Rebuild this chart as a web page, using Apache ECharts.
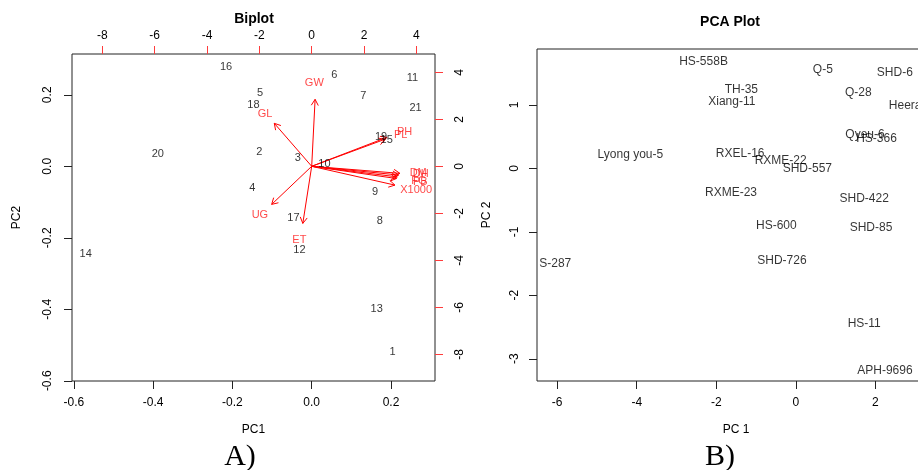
<!DOCTYPE html>
<html lang="en">
<head>
    <meta charset="utf-8">
    <title>Biplot / PCA Plot</title>
    <script src="https://cdn.jsdelivr.net/npm/echarts@6/dist/echarts.min.js"></script>
    <style type="text/css">
        html, body {
            width: 100%;
            height: 100%;
            margin: 0px;
            padding: 0px;
            background: #fff;
        }

        #main {
            width: 918px;
            height: 470px;
        }
    </style>
</head>
<body>
<div id="main"></div>
<script>
    // A) biplot - scores of the 21 genotypes (PC1 / PC2)
    var biNames = ['1', '2', '3', '4', '5', '6', '7', '8', '9', '10', '11',
        '12', '13', '14', '15', '16', '17', '18', '19', '20', '21'];
    var biPC1 = [0.204, -0.132, -0.035, -0.150, -0.130, 0.057, 0.130, 0.172, 0.160, 0.032, 0.254,
        -0.031, 0.164, -0.570, 0.189, -0.216, -0.046, -0.147, 0.175, -0.388, 0.262];
    var biPC2 = [-0.519, 0.041, 0.024, -0.061, 0.206, 0.255, 0.197, -0.152, -0.072, 0.006, 0.246,
        -0.234, -0.399, -0.245, 0.074, 0.277, -0.144, 0.172, 0.083, 0.035, 0.164];

    // A) biplot - trait vectors (top / right scale)
    var traits = ['GW', 'GL', 'PH', 'PL', 'DM', 'DH', 'FG', 'PB', 'X1000', 'UG', 'ET'];
    var arrowX = [0.13, -1.43, 2.87, 2.80, 3.37, 3.32, 3.27, 3.24, 3.18, -1.53, -0.34];
    var arrowY = [2.85, 1.83, 1.23, 1.15, -0.30, -0.37, -0.45, -0.52, -0.80, -1.62, -2.43];
    var traitLabX = [0.10, -1.78, 3.55, 3.40, 4.07, 4.17, 4.10, 4.15, 3.99, -1.98, -0.47];
    var traitLabY = [3.53, 2.22, 1.45, 1.32, -0.30, -0.32, -0.62, -0.66, -1.02, -2.09, -3.14];

    // B) PCA plot - genotype names
    var pcaNames = ['HS-558B', 'Q-5', 'SHD-6', 'TH-35', 'Q-28', 'Xiang-11', 'Heera', 'Qyeu-6', 'HS-366',
        'Lyong you-5', 'RXEL-16', 'RXME-22', 'SHD-557', 'RXME-23', 'SHD-422', 'HS-600', 'SHD-85',
        'S-287', 'SHD-726', 'HS-11', 'APH-9696'];
    var pcaPC1 = [-2.32, 0.68, 2.49, -1.37, 1.57, -1.61, 2.75, 1.74, 2.03,
        -4.16, -1.40, -0.38, 0.29, -1.63, 1.72, -0.49, 1.89,
        -6.05, -0.35, 1.72, 2.24];
    var pcaPC2 = [1.674, 1.553, 1.50, 1.233, 1.19, 1.049, 0.98, 0.535, 0.466,
        0.209, 0.225, 0.12, 0.0, -0.384, -0.472, -0.909, -0.940,
        -1.507, -1.455, -2.452, -3.187];

    // tick values
    var biTicksX = [-0.6, -0.4, -0.2, 0.0, 0.2];
    var biTicksY = [-0.6, -0.4, -0.2, 0.0, 0.2];
    var biTicksTop = [-8, -6, -4, -2, 0, 2, 4];
    var biTicksRight = [-8, -6, -4, -2, 0, 2, 4];
    var pcaTicksX = [-6, -4, -2, 0, 2];
    var pcaTicksY = [-3, -2, -1, 0, 1];

    var FONT = "'Liberation Sans', Arial, sans-serif";
    var INK = '#000';
    var RED = '#ff0000';

    function points(names, xs, ys) {
        return names.map(function (n, i) {
            return {name: n, value: [xs[i], ys[i]]};
        });
    }

    function axisBase(o) {
        var ax = {
            type: 'value',
            scale: true,
            splitLine: {show: false},
            axisLine: {show: false, onZero: false},
            axisTick: {show: true, length: 8, lineStyle: {color: o.tickColor || '#222'}, customValues: o.ticks},
            axisLabel: {
                color: INK, fontFamily: FONT, fontSize: 12, margin: o.margin,
                rotate: o.rotate || 0, customValues: o.ticks,
                formatter: o.fmt || function (v) { return String(v); }
            }
        };
        for (var k in o.extra) ax[k] = o.extra[k];
        return ax;
    }

    var fmt1 = function (v) { return v.toFixed(1); };

    var myChart = echarts.init(document.getElementById('main'), null, {renderer: 'canvas'});

    var option = {
        backgroundColor: '#fff',
        animation: false,
        grid: [
            {left: 72, top: 54, width: 363, height: 327, show: true, borderColor: '#222', borderWidth: 1,
                backgroundColor: 'transparent', outerBoundsMode: 'none'},
            {left: 537, top: 49, width: 398, height: 332, show: true, borderColor: '#222', borderWidth: 1,
                backgroundColor: 'transparent', outerBoundsMode: 'none'}
        ],
        xAxis: [
            axisBase({ticks: biTicksX, margin: 16, fmt: fmt1,
                extra: {gridIndex: 0, position: 'bottom', min: -0.6046, max: 0.311,
                    name: 'PC1', nameLocation: 'middle', nameGap: 43,
                    nameTextStyle: {color: INK, fontFamily: FONT, fontSize: 12}}}),
            axisBase({ticks: biTicksTop, margin: 12, tickColor: '#ff3b3b',
                extra: {gridIndex: 0, position: 'top', min: -9.16, max: 4.712}}),
            axisBase({ticks: pcaTicksX, margin: 16,
                extra: {gridIndex: 1, position: 'bottom', min: -6.508, max: 3.5,
                    name: 'PC 1', nameLocation: 'middle', nameGap: 43,
                    nameTextStyle: {color: INK, fontFamily: FONT, fontSize: 12}}})
        ],
        yAxis: [
            axisBase({ticks: biTicksY, margin: 18, rotate: 90, fmt: fmt1,
                extra: {gridIndex: 0, position: 'left', min: -0.6006, max: 0.3141,
                    name: 'PC2', nameLocation: 'middle', nameGap: 49,
                    nameTextStyle: {color: INK, fontFamily: FONT, fontSize: 12}}}),
            axisBase({ticks: biTicksRight, margin: 19, rotate: 90, tickColor: '#ff3b3b',
                extra: {gridIndex: 0, position: 'right', min: -9.136, max: 4.779}}),
            axisBase({ticks: pcaTicksY, margin: 16, rotate: 90,
                extra: {gridIndex: 1, position: 'left', min: -3.35, max: 1.879,
                    name: 'PC 2', nameLocation: 'middle', nameGap: 44,
                    nameTextStyle: {color: INK, fontFamily: FONT, fontSize: 12}}})
        ],
        graphic: [
            {type: 'text', x: 254, y: 19, style: {text: 'Biplot', font: "bold 14px " + FONT,
                fill: '#000', textAlign: 'center', textVerticalAlign: 'middle'}},
            {type: 'text', x: 730, y: 22, style: {text: 'PCA Plot', font: "bold 14px " + FONT,
                fill: '#000', textAlign: 'center', textVerticalAlign: 'middle'}},
            {type: 'text', x: 240, y: 457, style: {text: 'A)', font: "30px 'Liberation Serif', serif",
                fill: '#000', textAlign: 'center', textVerticalAlign: 'middle'}},
            {type: 'text', x: 720, y: 457, style: {text: 'B)', font: "30px 'Liberation Serif', serif",
                fill: '#000', textAlign: 'center', textVerticalAlign: 'middle'}}
        ],
        series: [
            {
                // genotype numbers in the biplot
                type: 'scatter', xAxisIndex: 0, yAxisIndex: 0,
                symbolSize: 1, itemStyle: {color: 'rgba(0,0,0,0)'},
                label: {show: true, position: 'inside', formatter: '{b}', color: INK,
                    fontFamily: FONT, fontSize: 11},
                data: points(biNames, biPC1, biPC2)
            },
            {
                // trait vectors
                type: 'custom', xAxisIndex: 1, yAxisIndex: 1,
                renderItem: function (params, api) {
                    var o = api.coord([0, 0]);
                    var t = api.coord([api.value(0), api.value(1)]);
                    var a = Math.atan2(t[1] - o[1], t[0] - o[0]);
                    var L = 7, w = Math.PI / 6;
                    return {
                        type: 'group',
                        children: [
                            {type: 'line', shape: {x1: o[0], y1: o[1], x2: t[0], y2: t[1]},
                                style: {stroke: RED, lineWidth: 1}},
                            {type: 'polyline', shape: {points: [
                                [t[0] - L * Math.cos(a - w), t[1] - L * Math.sin(a - w)],
                                [t[0], t[1]],
                                [t[0] - L * Math.cos(a + w), t[1] - L * Math.sin(a + w)]
                            ]}, style: {stroke: RED, fill: null, lineWidth: 1}}
                        ]
                    };
                },
                data: arrowX.map(function (x, i) { return [x, arrowY[i]]; })
            },
            {
                // trait names
                type: 'scatter', xAxisIndex: 1, yAxisIndex: 1,
                symbolSize: 1, itemStyle: {color: 'rgba(0,0,0,0)'},
                label: {show: true, position: 'inside', formatter: '{b}', color: '#ff1a1a',
                    fontFamily: FONT, fontSize: 11},
                data: points(traits, traitLabX, traitLabY)
            },
            {
                // genotype names in the PCA plot
                type: 'scatter', xAxisIndex: 2, yAxisIndex: 2,
                symbolSize: 1, itemStyle: {color: 'rgba(0,0,0,0)'},
                label: {show: true, position: 'inside', formatter: '{b}', color: INK,
                    fontFamily: FONT, fontSize: 12},
                data: points(pcaNames, pcaPC1, pcaPC2)
            }
        ]
    };

    myChart.setOption(option);
</script>
</body>
</html>
